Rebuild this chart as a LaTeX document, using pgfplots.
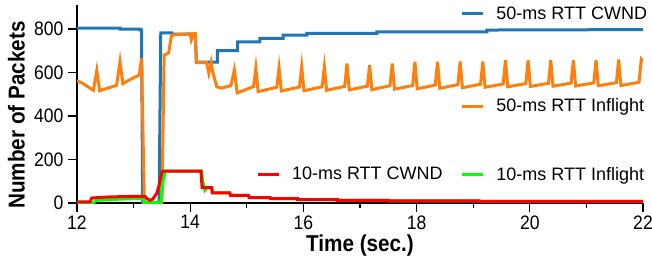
\documentclass[border=0pt]{standalone}
\usepackage{fontspec}
\setmainfont{Liberation Sans}
\newfontfamily\tickfont[FakeStretch=0.9]{Liberation Sans}
\usepackage{pgfplots}
\pgfplotsset{compat=1.18}
\definecolor{cblue}{RGB}{31,119,180}
\definecolor{corange}{RGB}{255,127,14}
\definecolor{cred}{RGB}{255,0,0}
\definecolor{cgreen}{RGB}{0,255,0}
\pgfplotsset{
  base/.style={scale only axis, width=566bp, height=198bp,
    xmin=12, xmax=22, ymin=0, ymax=910, clip=false},
  leg/.style={hide axis, legend style={draw=none, fill=none, inner sep=0pt,
    nodes={inner sep=0pt}, column sep=12bp, font=\fontsize{18bp}{20bp}\selectfont,
    anchor=west},
    legend image code/.code={\draw[##1,line width=3bp] (0bp,0bp) -- (21bp,0bp);}},
}
\begin{document}
\begin{tikzpicture}
\begin{axis}[base,
  axis lines*=left,
  axis line style={line width=1.3bp, black},
  tick align=outside,
  major tick length=9bp, minor tick length=4.5bp,
  every tick/.style={black, line width=1.2bp},
  xtick={12,14,16,18,20,22},
  minor xtick={13,15,17,19,21},
  ytick={0,200,400,600,800},
  /pgf/number format/assume math mode=true,
  ticklabel style={font=\tickfont\fontsize{19.5bp}{21bp}\selectfont},
  xticklabel style={yshift=0bp},
  yticklabel style={xshift=-1bp},
  xlabel={\bfseries Time (sec.)},
  ylabel={\bfseries Number of Packets},
  label style={font=\tickfont\fontsize{23bp}{24bp}\selectfont},
  xlabel style={at={(axis description cs:0.5,-0.215)}, anchor=center},
  ylabel style={at={(axis description cs:-0.107,0.445)}, anchor=center},
  clip=true,
]
% 50-ms RTT CWND
\addplot[cblue, line width=3bp] coordinates {
(12,804) (12.76,804) (12.76,799) (13.11,799) (13.11,796) (13.14,796) (13.16,0)
(13.45,0) (13.48,782) (13.67,782) (13.67,776) (14.09,776) (14.11,647) (14.48,647)
(14.48,700) (14.84,700) (14.84,740) (15.23,740) (15.23,757) (15.64,757) (15.64,772)
(16.06,772) (16.06,780) (17.3,780) (17.3,787) (19.24,787) (19.24,795) (22,797)
};
% 50-ms RTT Inflight
\addplot[corange, line width=3bp] coordinates {
(12,562) (12.1,550) (12.29,518) (12.35,610) (12.40,516) (12.70,541) (12.76,650)
(12.81,549) (12.94,568) (13.1,588) (13.14,665) (13.19,0) (13.50,0) (13.54,680)
(13.62,690) (13.67,772) (14.0,778) (14.02,749) (14.06,778) (14.09,778) (14.11,645)
(14.29,645) (14.33,596) (14.37,645) (14.40,600) (14.47,534) (14.55,528) (14.72,540)
(14.78,611) (14.83,506)
(15.12,535) (15.16,620) (15.20,512)
(15.53,532) (15.57,620) (15.61,515)
(15.93,533) (15.97,626) (16.01,516)
(16.33,534) (16.37,626) (16.41,518)
(16.73,536) (16.77,641) (16.81,520)
(17.13,537) (17.17,634) (17.21,521)
(17.53,539) (17.57,641) (17.61,523)
(17.93,540) (17.97,649) (18.01,525)
(18.33,542) (18.37,649) (18.41,527)
(18.73,544) (18.77,650) (18.81,530)
(19.13,546) (19.17,650) (19.21,532)
(19.53,547) (19.57,656) (19.61,534)
(19.93,549) (19.97,656) (20.01,536)
(20.33,550) (20.37,656) (20.41,537)
(20.73,551) (20.77,656) (20.81,538)
(21.13,552) (21.17,656) (21.21,539)
(21.53,553) (21.57,659) (21.61,540)
(21.93,555) (21.97,660) (22,650)
};
% 10-ms RTT Inflight
\addplot[cgreen, line width=3bp] coordinates {
(12,3) (12.30,3) (12.34,12) (12.6,16) (13.1,21) (13.15,20) (13.2,3) (13.48,3)
(13.52,100) (13.56,147) (14.2,147) (14.22,100) (14.26,58) (14.3,70) (14.38,70)
(14.4,46) (14.7,46) (14.72,35) (15.03,35) (15.05,25) (15.41,25) (15.42,20)
(15.9,20) (15.9,15) (16.6,15) (16.6,12) (17.5,12) (17.5,10) (19.1,10) (19.1,8) (22,8)
};
% 10-ms RTT CWND
\addplot[cred, line width=3bp] coordinates {
(12,5) (12.23,5) (12.26,23) (12.58,28) (13.13,31) (13.2,30) (13.25,18) (13.29,12)
(13.34,18) (13.41,45) (13.45,80) (13.5,143) (13.52,147) (14.19,147) (14.21,71)
(14.38,71) (14.39,46) (14.7,46) (14.71,35) (15.03,35) (15.04,25) (15.41,25)
(15.42,20) (15.9,20) (15.9,15) (16.6,15) (16.6,12) (17.5,12) (17.5,10) (19.1,10)
(19.1,8) (22,8)
};
\coordinate (O) at (rel axis cs:0,0);
\end{axis}
\begin{axis}[base, leg, legend style={at={(rel axis cs:0.677,0.956)}}]
\addlegendimage{cblue}\addlegendentry{50-ms RTT CWND}
\end{axis}
\begin{axis}[base, leg, legend style={at={(rel axis cs:0.677,0.489)}}]
\addlegendimage{corange}\addlegendentry{50-ms RTT Inflight}
\end{axis}
\begin{axis}[base, leg, legend style={at={(rel axis cs:0.316,0.145)}}]
\addlegendimage{cred}\addlegendentry{10-ms RTT CWND}
\end{axis}
\begin{axis}[base, leg, legend style={at={(rel axis cs:0.677,0.145)}}]
\addlegendimage{cgreen}\addlegendentry{10-ms RTT Inflight}
\end{axis}
\pgfresetboundingbox
\path (O) ++(-77bp,-58bp) rectangle ++(652bp,261bp);
\end{tikzpicture}
\end{document}
